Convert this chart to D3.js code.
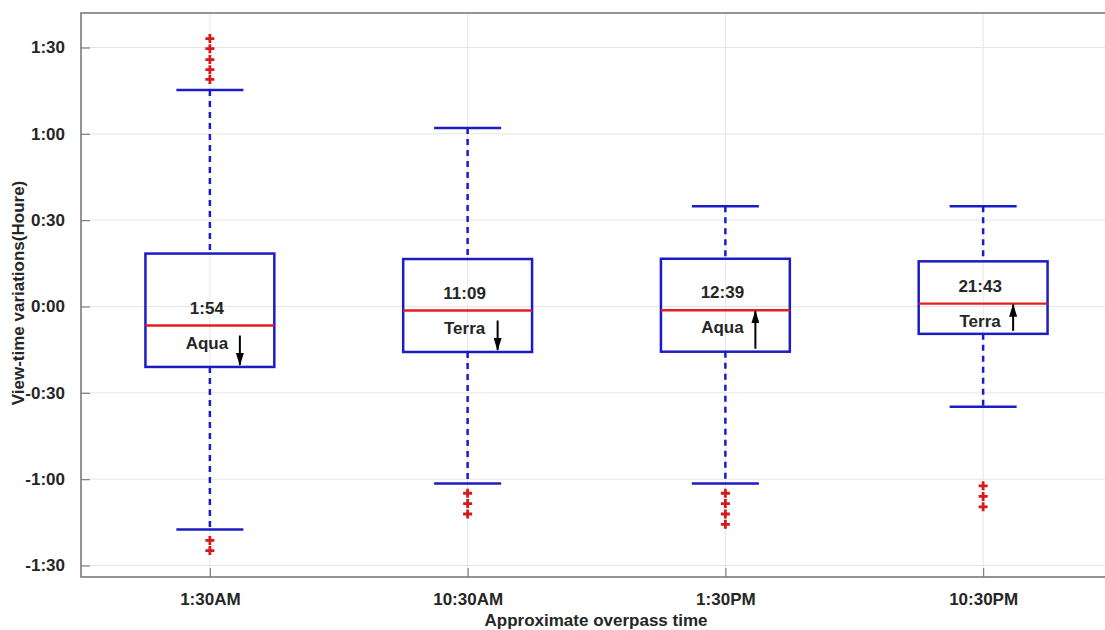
<!DOCTYPE html>
<html>
<head>
<meta charset="utf-8">
<script src="https://cdn.jsdelivr.net/npm/d3@7"></script>
<style>
  html, body { margin: 0; padding: 0; background: #fff; }
  svg { display: block; }
  text { font-family: "Liberation Sans", Arial, sans-serif; font-weight: bold; fill: #262626; }
</style>
</head>
<body>
<svg id="chart" width="1105" height="630"></svg>
<script>
// Overpass groups (x axis)
const categories = ["1:30AM", "10:30AM", "1:30PM", "10:30PM"];

// Box statistics, in minutes of deviation from the nominal view time
const upperWhisker = [75.2, 62.0, 34.8, 34.8];
const q3 = [18.4, 16.5, 16.6, 15.7];
const median = [-6.6, -1.4, -1.3, 1.0];
const q1 = [-21.0, -15.8, -15.7, -9.5];
const lowerWhisker = [-77.5, -61.5, -61.5, -34.8];

// Outliers per group, minutes
const outliers = [
  [93.1, 89.6, 85.8, 82.3, 78.9, -81.3, -84.8],
  [-64.9, -68.5, -72.1],
  [-64.9, -68.5, -72.1, -75.7],
  [-62.3, -66.0, -69.6]
];

// Annotations inside each box
const meanTimes = ["1:54", "11:09", "12:39", "21:43"];
const satellites = ["Aqua", "Terra", "Aqua", "Terra"];
const trend = ["down", "down", "up", "up"];

// Y ticks in minutes
const yTicks = [-90, -60, -30, 0, 30, 60, 90];

const svg = d3.select("#chart");
const plotL = 81, plotR = 1112, plotT = 13, plotB = 577;

const x = d3.scaleLinear().domain([0.5, 4.5]).range([plotL, plotR]);
const y = d3.scaleLinear().domain([-94, 102]).range([plotB, plotT]);

const boxColor = "#1c1cc4";
const medColor = "#e41e1e";
const outColor = "#d41a1a";

function fmt(m) {
  const s = m < 0 ? "-" : "";
  const a = Math.abs(m);
  return s + Math.floor(a / 60) + ":" + String(a % 60).padStart(2, "0");
}

// Grid
const grid = svg.append("g").attr("stroke", "#e6e6e6").attr("stroke-width", 1);
yTicks.forEach(t => grid.append("line")
  .attr("x1", plotL).attr("x2", plotR).attr("y1", y(t)).attr("y2", y(t)));
categories.forEach((c, i) => grid.append("line")
  .attr("x1", x(i + 1)).attr("x2", x(i + 1)).attr("y1", plotT).attr("y2", plotB));

// Axes with inward ticks
const yAxis = d3.axisLeft(y).tickValues(yTicks).tickFormat(fmt).tickSizeInner(-9).tickSizeOuter(0).tickPadding(16);
const gy = svg.append("g").attr("transform", `translate(${plotL},0)`).call(yAxis);
const xAxis = d3.axisBottom(x).tickValues([1, 2, 3, 4]).tickFormat((d) => categories[d - 1]).tickSizeInner(-9).tickSizeOuter(0).tickPadding(16);
const gx = svg.append("g").attr("transform", `translate(0,${plotB})`).call(xAxis);
[gx, gy].forEach(g => {
  g.select(".domain").remove();
  g.selectAll(".tick line").attr("stroke", "#808080").attr("stroke-width", 1.2);
  g.selectAll(".tick text").style("font-size", "17px").attr("fill", "#262626")
    .style("font-family", "'Liberation Sans', Arial, sans-serif").style("font-weight", "bold");
});

// Frame
svg.append("rect").attr("x", plotL).attr("y", plotT).attr("width", plotR - plotL).attr("height", plotB - plotT)
  .attr("fill", "none").attr("stroke", "#7a7a7a").attr("stroke-width", 1.6);

// Axis titles
svg.append("text").attr("x", 596).attr("y", 626).attr("text-anchor", "middle")
  .style("font-size", "17px").text("Approximate overpass time");
svg.append("text").attr("transform", `translate(24,${(plotT + plotB) / 2 - 2}) rotate(-90)`)
  .attr("text-anchor", "middle").style("font-size", "17px").text("View-time variations(Houre)");

// Arrowhead marker
const defs = svg.append("defs");
defs.append("marker").attr("id", "head").attr("viewBox", "0 0 13 8").attr("refX", 12).attr("refY", 4)
  .attr("markerWidth", 13).attr("markerHeight", 8).attr("markerUnits", "userSpaceOnUse").attr("orient", "auto")
  .append("path").attr("d", "M0,0 L13,4 L0,8 Z").attr("fill", "#000");

const boxHalf = 0.25, capHalf = 0.13;
const g = svg.append("g");

categories.forEach((c, i) => {
  const cx = x(i + 1);
  // whiskers
  g.append("line").attr("x1", cx).attr("x2", cx).attr("y1", y(upperWhisker[i])).attr("y2", y(q3[i]))
    .attr("stroke", boxColor).attr("stroke-width", 2.5).attr("stroke-dasharray", "6,5");
  g.append("line").attr("x1", cx).attr("x2", cx).attr("y1", y(q1[i])).attr("y2", y(lowerWhisker[i]))
    .attr("stroke", boxColor).attr("stroke-width", 2.5).attr("stroke-dasharray", "6,5");
  // caps
  [upperWhisker[i], lowerWhisker[i]].forEach(v => g.append("line")
    .attr("x1", x(i + 1 - capHalf)).attr("x2", x(i + 1 + capHalf)).attr("y1", y(v)).attr("y2", y(v))
    .attr("stroke", boxColor).attr("stroke-width", 2.5));
  // box
  g.append("rect").attr("x", x(i + 1 - boxHalf)).attr("y", y(q3[i]))
    .attr("width", x(i + 1 + boxHalf) - x(i + 1 - boxHalf)).attr("height", y(q1[i]) - y(q3[i]))
    .attr("fill", "none").attr("stroke", boxColor).attr("stroke-width", 2.5);
  // median
  g.append("line").attr("x1", x(i + 1 - boxHalf)).attr("x2", x(i + 1 + boxHalf))
    .attr("y1", y(median[i])).attr("y2", y(median[i]))
    .attr("stroke", medColor).attr("stroke-width", 2.4);
  // outliers
  outliers[i].forEach(v => {
    const py = y(v);
    g.append("path").attr("d", `M${cx - 4.5},${py}H${cx + 4.5}M${cx},${py - 4.5}V${py + 4.5}`)
      .attr("stroke", outColor).attr("stroke-width", 2.8).attr("fill", "none");
  });
  // annotations
  const my = y(median[i]);
  g.append("text").attr("x", cx - 3).attr("y", my - 12).attr("text-anchor", "middle")
    .style("font-size", "17px").attr("fill", "#1a1a1a").text(meanTimes[i]);
  g.append("text").attr("x", cx - 3).attr("y", my + 23).attr("text-anchor", "middle")
    .style("font-size", "17px").attr("fill", "#1a1a1a").text(satellites[i]);
  const ax = cx + 30;
  const qy = y(q1[i]);
  const [y0, y1] = trend[i] === "down" ? [my + 10, qy - 2] : [qy - 3, my + 1];
  g.append("line").attr("x1", ax).attr("x2", ax).attr("y1", y0).attr("y2", y1)
    .attr("stroke", "#000").attr("stroke-width", 2).attr("marker-end", "url(#head)");
});
</script>
</body>
</html>
